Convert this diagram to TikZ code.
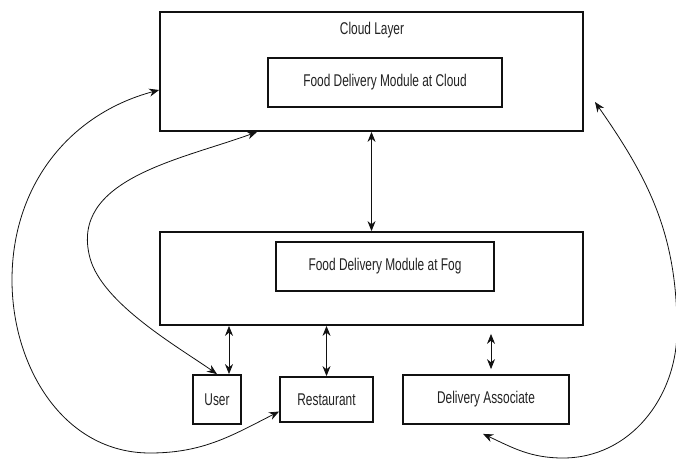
\documentclass[tikz,border=0pt]{standalone}
\usepackage{fontspec}
\setsansfont{Liberation Sans}[FakeStretch=0.7]
\usetikzlibrary{arrows.meta}
\begin{document}
\begin{tikzpicture}[x=1pt,y=-1pt,font=\sffamily\fontsize{17}{20}\selectfont,
  layerbox/.style={draw=ink,line width=1.8pt,inner sep=0pt},
  modbox/.style={draw=ink,line width=1.8pt,inner sep=0pt,text=txt},
  actorbox/.style={draw=ink,line width=1.8pt,inner sep=0pt,text=txt},
  link/.style={ink,line width=.8pt,{Stealth[length=10pt,width=8pt]}-{Stealth[length=10pt,width=8pt]}}]
\definecolor{ink}{HTML}{111111}\definecolor{txt}{HTML}{222222}
\useasboundingbox (0,0) rectangle (676,460);
\node[layerbox,minimum width=423pt,minimum height=119pt] (cloud) at (371.5,71.5) {};
\node[text=txt] (cloudlbl) at (372,30) {Cloud Layer};
\node[modbox,minimum width=234pt,minimum height=49pt] (cloudmod) at (385,82.5) {Food Delivery Module at Cloud};
\node[layerbox,minimum width=423pt,minimum height=93pt] (fog) at (371.5,278.5) {};
\node[modbox,minimum width=218pt,minimum height=49pt] (fogmod) at (385,266.5) {Food Delivery Module at Fog};
\node[actorbox,minimum width=48pt,minimum height=49pt] (user) at (217,399.5) {User};
\node[actorbox,minimum width=93pt,minimum height=45pt] (rest) at (326.5,399.5) {Restaurant};
\node[actorbox,minimum width=166pt,minimum height=49pt] (deliv) at (486,399.5) {Delivery Associate};
\coordinate (userup) at ([xshift=12pt]user.north);
\coordinate (delivup) at ([shift={(5pt,5pt)}]deliv.north);
\coordinate (fogdown) at ([yshift=-8pt]delivup |- fog.south);
\coordinate (cloudL) at ([yshift=-18.5pt]cloud.west);
\coordinate (cloudB) at ([xshift=98pt]cloud.south west);
\coordinate (cloudR) at (595,102);
\coordinate (restL) at ([yshift=-12pt]rest.west);
\coordinate (delivB) at ([shift={(-3pt,-9pt)}]deliv.south);
\draw[link] (cloud.south) -- (fog.north);
\draw[link] (userup) -- (userup |- fog.south);
\draw[link] (rest.north) -- (rest.north |- fog.south);
\draw[link] (delivup) -- (fogdown);
\draw[link] (cloudB) to[out=200,in=105] (90,258) to[out=-75,in=145,looseness=.7] (user.north);
\draw[link] (cloudL) to[out=195,in=90] (12,280) to[out=-90,in=180] (150,453) to[out=0,in=207] (restL);
\draw[link] (delivB) to[out=-25,in=180] (563,458) to[out=0,in=-90] (677,330) to[out=90,in=-55] (cloudR);
\end{tikzpicture}
\end{document}
